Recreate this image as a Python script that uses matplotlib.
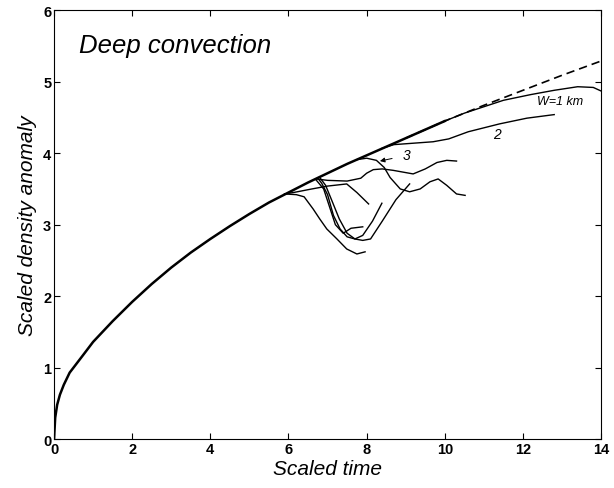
import matplotlib
matplotlib.use('Agg')
import matplotlib.pyplot as plt

plt.rcParams['font.family'] = ['Liberation Sans', 'DejaVu Sans']

# main curve shared by all runs (before they break away)
env_t = [0, 0.03, 0.08, 0.15, 0.25, 0.4, 0.75, 1.0, 1.5, 2.0, 2.5, 3.0, 3.5, 4.0, 4.5,
         5.0, 5.5, 6.0, 6.5, 7.0, 7.5, 8.0, 8.5, 9.0, 9.5, 10.0]
env_y = [0, 0.30, 0.48, 0.62, 0.76, 0.93, 1.18, 1.36, 1.65, 1.92, 2.17, 2.40, 2.61, 2.80, 2.98,
         3.15, 3.31, 3.45, 3.59, 3.72, 3.85, 3.97, 4.09, 4.21, 4.33, 4.45]

# theory (dashed)
theory_t = [9.0, 10.0, 11.0, 12.0, 13.0, 14.0]
theory_y = [4.21, 4.45, 4.67, 4.88, 5.09, 5.29]

# branches after leaving the main curve
w1_t = [10.0, 10.5, 11.0, 11.5, 12.2, 12.8, 13.4, 13.8, 14.0]
w1_y = [4.45, 4.56, 4.65, 4.74, 4.82, 4.88, 4.93, 4.92, 4.87]

w2_t = [8.4, 8.7, 9.2, 9.7, 10.1, 10.6, 11.4, 12.1, 12.8]
w2_y = [4.07, 4.12, 4.14, 4.16, 4.20, 4.30, 4.41, 4.49, 4.54]

w3_t = [7.75, 8.0, 8.25, 8.45, 8.6, 8.86, 9.1, 9.37, 9.62, 9.83, 10.05, 10.3, 10.52]
w3_y = [3.91, 3.93, 3.90, 3.80, 3.66, 3.50, 3.46, 3.50, 3.60, 3.64, 3.55, 3.43, 3.41]

w4_t = [6.7, 7.0, 7.5, 7.85, 8.0, 8.17, 8.4, 8.68, 9.19, 9.5, 9.8, 10.05, 10.3]
w4_y = [3.64, 3.62, 3.61, 3.65, 3.72, 3.77, 3.78, 3.76, 3.71, 3.78, 3.87, 3.90, 3.89]

d1_t = [5.9, 6.2, 6.4, 6.63, 6.8, 6.98, 7.24, 7.49, 7.75, 7.96]
d1_y = [3.43, 3.42, 3.39, 3.22, 3.08, 2.94, 2.80, 2.66, 2.59, 2.62]

d2_t = [5.9, 6.13, 6.6, 7.0, 7.49, 7.75, 8.05]
d2_y = [3.43, 3.45, 3.50, 3.54, 3.57, 3.45, 3.29]

d3_t = [6.75, 6.85, 7.0, 7.15, 7.32, 7.5, 7.7, 7.9, 8.15, 8.39]
d3_y = [3.65, 3.58, 3.42, 3.13, 2.94, 2.83, 2.80, 2.85, 3.05, 3.30]

d4_t = [6.8, 6.95, 7.1, 7.3, 7.5, 7.7, 7.9, 8.1, 8.4, 8.75, 9.1]
d4_y = [3.66, 3.55, 3.35, 3.08, 2.88, 2.80, 2.78, 2.80, 3.05, 3.35, 3.57]

d5_t = [6.7, 6.9, 7.05, 7.2, 7.4, 7.6, 7.9]
d5_y = [3.63, 3.50, 3.25, 3.00, 2.88, 2.95, 2.97]

fig = plt.figure(figsize=(6.14, 4.89), dpi=100)
ax = fig.add_axes([0.088, 0.100, 0.891, 0.877])

thin = 1.0
for t, y in [(w2_t, w2_y), (w3_t, w3_y), (w4_t, w4_y), (d1_t, d1_y),
             (d2_t, d2_y), (d3_t, d3_y), (d4_t, d4_y), (d5_t, d5_y)]:
    ax.plot(t, y, color='black', linewidth=thin)
ax.plot(w1_t, w1_y, color='black', linewidth=thin)
ax.plot(env_t, env_y, color='black', linewidth=1.8)
ax.plot(theory_t, theory_y, color='black', linewidth=1.2, linestyle=(0, (5, 3)))

ax.text(0.65, 5.52, 'Deep convection', fontsize=18.5, style='italic', va='center')
ax.text(12.95, 4.73, 'W=1 km', fontsize=9, style='italic', ha='center', va='center')
ax.text(11.33, 4.27, '2', fontsize=10, style='italic', ha='center', va='center')
ax.annotate('3', xy=(8.34, 3.89), xytext=(9.03, 3.97), fontsize=10, style='italic',
            ha='center', va='center',
            arrowprops=dict(arrowstyle='-|>', color='black', lw=0.7,
                            mutation_scale=7, shrinkA=6, shrinkB=0))

ax.set_xlim(0, 14)
ax.set_ylim(0, 6)
ax.set_xticks(range(0, 15, 2))
ax.set_yticks(range(0, 7))
ax.tick_params(direction='in', top=True, right=True, length=4, width=0.8,
               labelsize=10.5, pad=2)
for lab in ax.get_xticklabels() + ax.get_yticklabels():
    lab.set_fontweight('bold')
ax.set_xlabel('Scaled time', fontsize=15, style='italic', labelpad=2)
ax.set_ylabel('Scaled density anomaly', fontsize=15, style='italic', labelpad=4)

plt.savefig('out.png', dpi=100)
print('Done')
